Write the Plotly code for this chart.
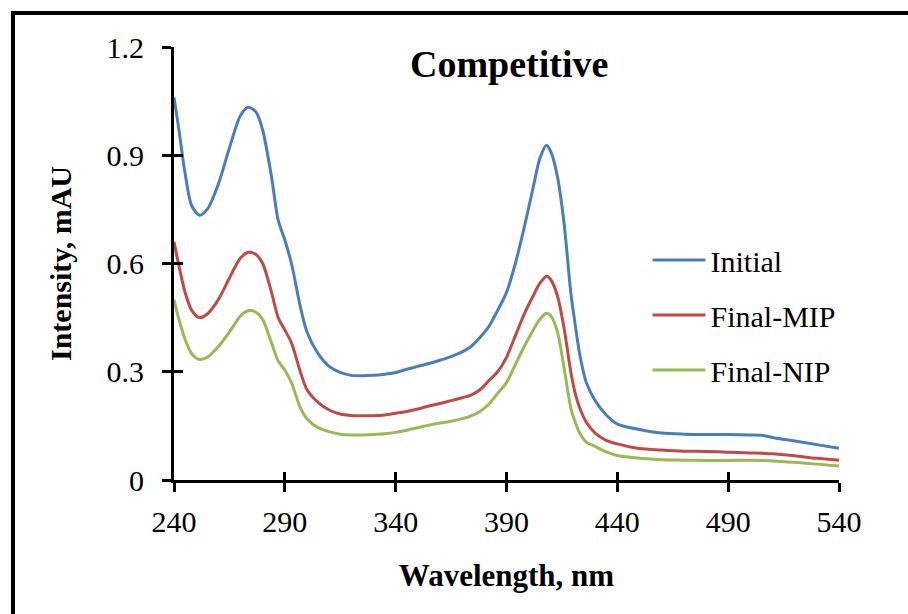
import plotly.graph_objects as go

wavelength = [240, 242, 245, 248, 251.5, 255, 260, 265, 270, 273.5, 277, 280, 284, 287, 290, 293, 297, 300,
              305, 310, 315, 320, 325, 330, 335, 340, 345, 350, 355, 360, 365, 370, 374, 378, 382, 386,
              390, 394, 398, 402, 405, 408, 410, 413, 416, 419, 421, 423, 426, 430, 435, 440, 450, 460,
              470, 480, 490, 500, 505, 510, 520, 530, 540]

initial = [1.06, 0.98, 0.85, 0.76, 0.734, 0.75, 0.82, 0.92, 1.01, 1.033, 1.02, 0.97, 0.84, 0.72, 0.665, 0.60, 0.48, 0.41,
           0.35, 0.315, 0.298, 0.290, 0.289, 0.290, 0.293, 0.298, 0.307, 0.315, 0.323, 0.332, 0.342, 0.355, 0.370, 0.395, 0.425, 0.470,
           0.520, 0.600, 0.700, 0.810, 0.890, 0.928, 0.910, 0.840, 0.710, 0.520, 0.430, 0.350, 0.270, 0.220, 0.180, 0.155, 0.140, 0.130,
           0.127, 0.126, 0.126, 0.125, 0.124, 0.118, 0.108, 0.098, 0.088]

final_mip = [0.66, 0.60, 0.52, 0.47, 0.450, 0.46, 0.50, 0.56, 0.615, 0.631, 0.625, 0.60, 0.52, 0.45, 0.416, 0.38, 0.30, 0.25,
             0.215, 0.194, 0.183, 0.179, 0.178, 0.178, 0.180, 0.185, 0.190, 0.197, 0.205, 0.212, 0.220, 0.228, 0.235, 0.250, 0.275, 0.300,
             0.340, 0.400, 0.460, 0.510, 0.545, 0.565, 0.555, 0.510, 0.420, 0.300, 0.240, 0.200, 0.160, 0.130, 0.110, 0.100, 0.087, 0.083,
             0.080, 0.079, 0.077, 0.075, 0.074, 0.073, 0.067, 0.060, 0.055]

final_nip = [0.50, 0.45, 0.39, 0.35, 0.334, 0.34, 0.37, 0.41, 0.455, 0.469, 0.465, 0.445, 0.38, 0.33, 0.305, 0.27, 0.20, 0.17,
             0.145, 0.134, 0.127, 0.125, 0.125, 0.126, 0.128, 0.132, 0.138, 0.145, 0.152, 0.158, 0.163, 0.170, 0.178, 0.190, 0.210, 0.240,
             0.270, 0.320, 0.370, 0.415, 0.445, 0.462, 0.455, 0.410, 0.310, 0.200, 0.160, 0.130, 0.105, 0.093, 0.078, 0.068, 0.060, 0.056,
             0.055, 0.054, 0.054, 0.055, 0.054, 0.053, 0.049, 0.044, 0.039]

series_names = ["Initial", "Final-MIP", "Final-NIP"]
series_values = [initial, final_mip, final_nip]
series_colors = ["#4A7EBB", "#BE4B48", "#98B954"]

x_ticks = [240, 290, 340, 390, 440, 490, 540]
y_ticks = [0, 0.3, 0.6, 0.9, 1.2]
y_tick_text = ["0", "0.3", "0.6", "0.9", "1.2"]

FONT = "Liberation Serif"

fig = go.Figure()
for i, (name, vals, col) in enumerate(zip(series_names, series_values, series_colors)):
    fig.add_trace(go.Scatter(x=wavelength, y=vals, name=name, mode="lines",
                             line=dict(color=col, width=3, shape="spline", smoothing=0.8),
                             legendgroup=f"g{i}"))
# helper empty trace for the inside-tick overlay axes
fig.add_trace(go.Scatter(x=[], y=[], xaxis="x2", yaxis="y2", showlegend=False, hoverinfo="skip"))

axis_common = dict(showgrid=False, zeroline=False, showline=True, linecolor="black", linewidth=3,
                   ticks="outside", ticklen=9, tickwidth=3, tickcolor="black",
                   tickfont=dict(family=FONT, size=30, color="black"))

fig.update_layout(
    width=908, height=614,
    margin=dict(l=174, r=69, t=47, b=134),
    paper_bgcolor="white", plot_bgcolor="white",
    showlegend=True,
    legend=dict(x=0.712, y=0.381, xanchor="left", yanchor="middle",
                font=dict(family=FONT, size=30, color="black"),
                bgcolor="rgba(0,0,0,0)", itemwidth=53, tracegroupgap=13),
    xaxis=dict(range=[240, 540], tickvals=x_ticks, ticklabelstandoff=4,
               title=dict(text="<b>Wavelength, nm</b>", font=dict(family=FONT, size=31, color="black"), standoff=28),
               **axis_common),
    yaxis=dict(range=[0, 1.2], tickvals=y_ticks, ticktext=y_tick_text, ticklabelstandoff=12,
               title=dict(text="<b>Intensity, mAU</b>", font=dict(family=FONT, size=30, color="black"), standoff=27),
               **axis_common),
    xaxis2=dict(range=[240, 540], tickvals=x_ticks, overlaying="x", anchor="y2", side="bottom",
                showticklabels=False, showgrid=False, zeroline=False, showline=False,
                ticks="inside", ticklen=8, tickwidth=3, tickcolor="black"),
    yaxis2=dict(range=[0, 1.2], tickvals=y_ticks, overlaying="y", anchor="x2", side="left",
                showticklabels=False, showgrid=False, zeroline=False, showline=False,
                ticks="inside", ticklen=9, tickwidth=3, tickcolor="black"),
    annotations=[dict(text="<b>Competitive</b>", x=0.504, y=0.96, xref="paper", yref="paper",
                      xanchor="center", yanchor="middle", showarrow=False,
                      font=dict(family=FONT, size=38, color="black"))],
    shapes=[dict(type="rect", xref="paper", yref="paper",
                 x0=-0.2421, x1=1.13, y0=-0.36, y1=1.0785,
                 line=dict(color="black", width=4), fillcolor="rgba(0,0,0,0)", layer="above")],
)

fig.write_html("out.html")
